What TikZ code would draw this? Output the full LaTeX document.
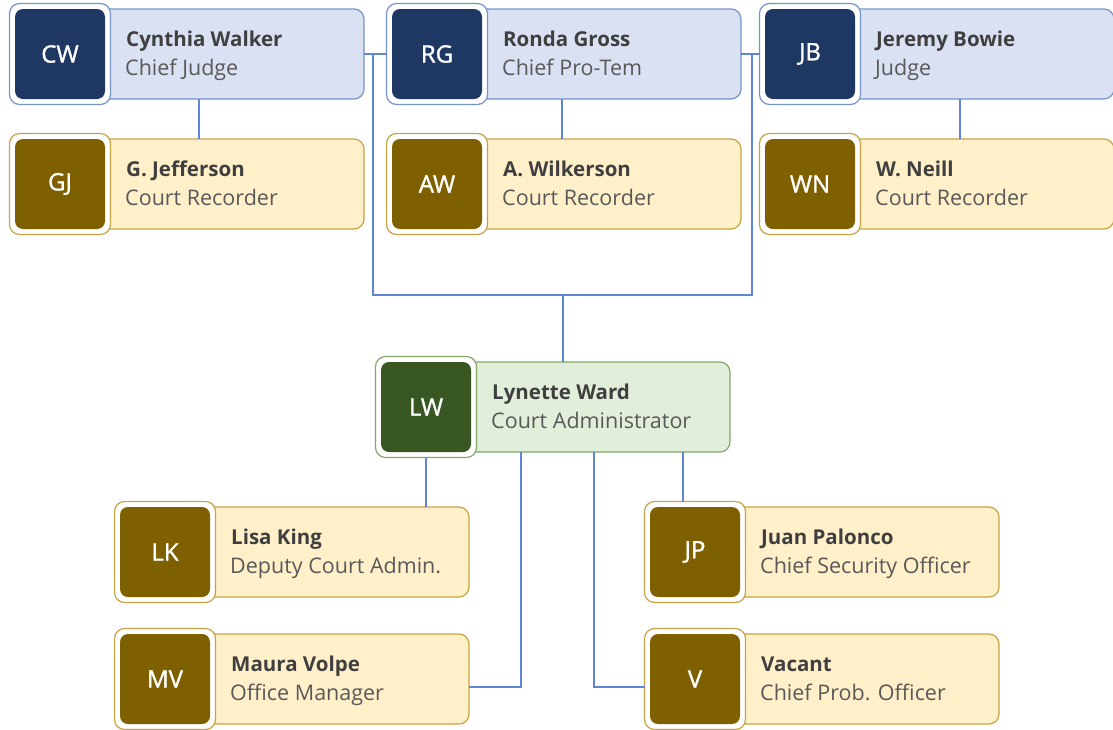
\documentclass[tikz,border=0pt]{standalone}
\usepackage{fontspec}
\setmainfont{Open Sans}
\newfontfamily\badgefont[FakeBold=1.3]{Open Sans}
\usetikzlibrary{positioning}

\definecolor{judgeDark}{HTML}{1F3763}
\definecolor{judgeFill}{HTML}{DAE1F3}
\definecolor{judgeLine}{HTML}{7693CA}
\definecolor{staffDark}{HTML}{7F6000}
\definecolor{staffFill}{HTML}{FFF0CA}
\definecolor{staffLine}{HTML}{C6A445}
\definecolor{adminDark}{HTML}{385723}
\definecolor{adminFill}{HTML}{E1EEDA}
\definecolor{adminLine}{HTML}{84A56C}
\definecolor{linkBlue}{HTML}{5F86D4}
\definecolor{nameGray}{HTML}{3F3F3F}
\definecolor{roleGray}{HTML}{595959}

\tikzset{
  cardbox/.style={draw=#1Line, fill=#1Fill, line width=1.2pt, rounded corners=10pt,
    minimum width=349pt, minimum height=90pt, inner sep=0pt, outer sep=0pt},
  badgering/.style={draw=#1Line, fill=white, line width=1.2pt, rounded corners=10pt,
    minimum size=101pt, inner sep=0pt, outer sep=0pt},
  badge/.style={fill=#1Dark, rounded corners=8pt, minimum size=90pt, inner sep=0pt,
    outer sep=0pt, text=white, font=\badgefont\fontsize{24}{28}\selectfont},
  person/.style={inner sep=0pt, text=nameGray, font=\fontsize{20.5}{24}\selectfont\bfseries},
  role/.style={inner sep=0pt, text=roleGray, font=\fontsize{21.5}{25}\selectfont},
  link/.style={draw=linkBlue, line width=2pt}
}

% #1 node name, #2 top left of the badge, #3 colour set, #4 initials, #5 person, #6 role
\newcommand{\orgcard}[6]{%
  \node[cardbox=#3, anchor=north west] (#1) at (#2) {};
  \node[badgering=#3] (#1-r) at ([xshift=45pt]#1.west) {};
  \node[badge=#3] (#1-in) at (#1-r) {#4};
  \node[person, anchor=base west] (#1-n) at ([xshift=21pt,yshift=7.5pt]#1-in.east) {#5};
  \node[role, anchor=base west] (#1-t) at ([xshift=20pt,yshift=-21.5pt]#1-in.east) {#6};
}

\begin{document}
\begin{tikzpicture}[x=1pt, y=-1pt]
  \fill[white] (0,0) rectangle (1113,729);
  \useasboundingbox (0,0) rectangle (1113,729);

  % judges
  \orgcard{cw}{15,9}{judge}{CW}{Cynthia Walker}{Chief Judge}
  \orgcard{rg}{392,9}{judge}{RG}{Ronda Gross}{Chief Pro-Tem}
  \orgcard{jb}{765,9}{judge}{JB}{Jeremy Bowie}{Judge}
  % recorders
  \orgcard{gj}{15,139}{staff}{GJ}{G. Jefferson}{Court Recorder}
  \orgcard{aw}{392,139}{staff}{AW}{A. Wilkerson}{Court Recorder}
  \orgcard{wn}{765,139}{staff}{WN}{W. Neill}{Court Recorder}
  % administration
  \orgcard{lw}{381,362}{admin}{LW}{Lynette Ward}{Court Administrator}
  \orgcard{lk}{120,507}{staff}{LK}{Lisa King}{Deputy Court Admin.}
  \orgcard{mv}{120,634}{staff}{MV}{Maura Volpe}{Office Manager}
  \orgcard{jp}{650,507}{staff}{JP}{Juan Palonco}{Chief Security Officer}
  \orgcard{vc}{650,634}{staff}{V}{Vacant}{Chief Prob. Officer}

  % connectors
  \coordinate (busL) at (373,295);
  \coordinate (busR) at (752,295);
  \draw[link] (cw.east) -- (rg-r.west);
  \draw[link] (rg.east) -- (jb-r.west);
  \draw[link] (busL |- cw.east) -- (busL) -- (busR) -- (busR |- jb.west);
  \draw[link] ([xshift=7pt]lw.north) -- ([xshift=7pt]lw.north |- busL);
  \draw[link] ([xshift=9.5pt]cw.south) -- ([xshift=9.5pt]gj.north);
  \draw[link] ([xshift=-5pt]rg.south) -- ([xshift=-5pt]aw.north);
  \draw[link] ([xshift=20pt]jb.south) -- ([xshift=20pt]wn.north);
  \draw[link] (lw-r.south) -- (lw-r.south |- lk.north);
  \draw[link] ([xshift=-35pt]lw.south) |- ([yshift=-8pt]mv.east);
  \draw[link] ([xshift=38pt]lw.south) |- ([yshift=-8pt]vc-r.west);
  \draw[link] ([xshift=127pt]lw.south) -- ([xshift=127pt]lw.south |- jp-r.north);
\end{tikzpicture}
\end{document}
